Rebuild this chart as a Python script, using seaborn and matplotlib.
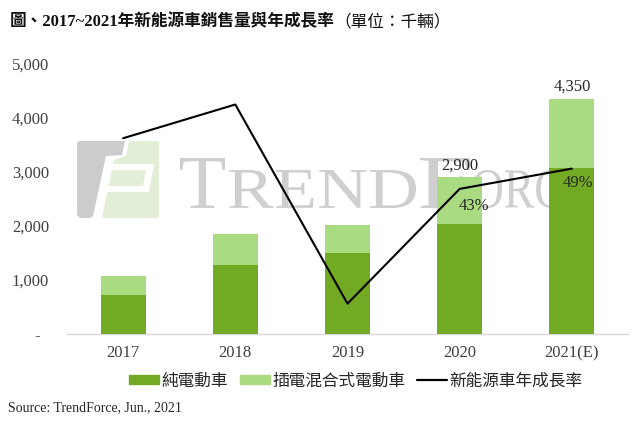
import numpy as np
import pandas as pd
import matplotlib
matplotlib.use("Agg")
import matplotlib.pyplot as plt
import seaborn as sns
from matplotlib.patches import Patch, Polygon, PathPatch
from matplotlib.lines import Line2D
from matplotlib.textpath import TextPath
from matplotlib.font_manager import FontProperties
from matplotlib.transforms import Affine2D, IdentityTransform

# 数据
years = ['2017', '2018', '2019', '2020', '2021(E)']
bev = [720, 1280, 1500, 2030, 3070]      # 純電動車
phev = [360, 570, 520, 870, 1280]        # 插電混合式電動車
growth = [58, 68, 9, 43, 49]             # 新能源車年成長率 (%)
total_labels = {3: '2,900', 4: '4,350'}
growth_labels = {3: '43%', 4: '49%'}

DARK = '#72AA24'
LIGHT = '#AADB80'
SERIF = ['Liberation Serif', 'Noto Sans CJK TC']
CJK = ['Noto Sans CJK TC', 'DejaVu Sans']

sns.set_theme(style="white")
plt.rcParams['font.family'] = SERIF
plt.rcParams['axes.unicode_minus'] = False

W, H = 640, 421
fig = plt.figure(figsize=(6.4, 4.21), dpi=100)
ax = fig.add_axes([67 / W, 1 - 334 / H, 561 / W, 270 / H])
ax.patch.set_alpha(0)


def px(x, y):
    return (x / W, 1 - y / H)


# 水印 logo
def add_poly(pts, color):
    fig.add_artist(Polygon([px(*p) for p in pts], closed=True, fc=color, ec='none',
                           transform=fig.transFigure, zorder=-5))


add_poly([(77, 143), (79, 141), (125, 141), (122, 155), (106, 156), (93, 216),
          (90, 218), (80, 218), (77, 215)], '#cccccc')
add_poly([(129, 141), (157, 141), (159, 143), (159, 216), (157, 218), (102, 218),
          (114, 160), (126, 156)], '#e2efd6')
add_poly([(112, 164), (154, 164), (153, 170), (111, 170)], 'white')
add_poly([(146, 170), (153, 170), (149, 192), (106, 192), (107, 186), (143, 186)], 'white')


# 水印文字
def fit_text(s, box, color):
    x0, y0, x1, y1 = box
    tp = TextPath((0, 0), s, size=100, prop=FontProperties(family='Liberation Serif'))
    ext = tp.get_extents()
    tr = (Affine2D().translate(-ext.x0, -ext.y0)
          .scale((x1 - x0) / ext.width, (y1 - y0) / ext.height)
          .translate(x0, H - y1))
    fig.add_artist(PathPatch(tr.transform_path(tp), fc=color, ec='none',
                             transform=IdentityTransform(), zorder=-5))


wm = '#cfcfcf'
fit_text('T', (180, 158, 225, 208), wm)
fit_text('REND', (229, 170, 416, 208), wm)
fit_text('F', (420, 158, 470, 208), wm)
fit_text('ORCE', (473, 170, 590, 208), wm)

# 堆叠柱状图
df = pd.DataFrame({'year': years, 'bev': bev, 'total': np.add(bev, phev)})
sns.barplot(data=df, x='year', y='total', color=LIGHT, saturation=1, width=0.4,
            linewidth=0, ax=ax, zorder=2)
sns.barplot(data=df, x='year', y='bev', color=DARK, saturation=1, width=0.4,
            linewidth=0, ax=ax, zorder=3)

ax.set_xlim(-0.5, 4.5)
ax.set_ylim(0, 5000)
ax.set_yticks(range(0, 5001, 1000))
ax.set_yticklabels(['-  '] + [f'{v:,}' for v in range(1000, 5001, 1000)])
ax.set_xlabel('')
ax.set_ylabel('')
ax.tick_params(axis='both', length=0, labelsize=12, colors='#404040')
ax.tick_params(axis='y', pad=13)
ax.tick_params(axis='x', pad=8)
for s in ['top', 'right', 'left']:
    ax.spines[s].set_visible(False)
ax.spines['bottom'].set_color('#d9d9d9')
ax.spines['bottom'].set_linewidth(1)

for i, lab in total_labels.items():
    ax.annotate(lab, (i, bev[i] + phev[i]), xytext=(0, 3), textcoords='offset points',
                ha='center', va='bottom', fontsize=12, color='#262626')

# 折线（次坐标轴）
ax2 = ax.twinx()
sns.lineplot(x=np.arange(len(years)), y=growth, ax=ax2, color='black', linewidth=1.5,
             sort=False)
ax2.set_ylim(0, 80)
ax2.set_xlim(-0.5, 4.5)
ax2.axis('off')
offs = {3: (10, -12), 4: (4, -10)}
for i, lab in growth_labels.items():
    ax2.annotate(lab, (i, growth[i]), xytext=offs[i], textcoords='offset points',
                 ha='center', va='center', fontsize=12, color='#262626')

# 图例
handles = [Patch(color=DARK, label='純電動車'),
           Patch(color=LIGHT, label='插電混合式電動車'),
           Line2D([], [], color='black', linewidth=1.6, label='新能源車年成長率')]
fig.legend(handles=handles, loc='center', bbox_to_anchor=(356 / W, 1 - 381 / H), ncol=3,
           frameon=False, prop=FontProperties(family=CJK, size=12),
           handlelength=1.8, handleheight=0.5, handletextpad=0.15, columnspacing=0.7,
           labelcolor='#262626')

# 标题
t1 = fig.text(10 / W, 1 - 22 / H, '圖、2017~2021年新能源車銷售量與年成長率',
              fontsize=12, fontweight='bold', va='center', ha='left', color='#111111')
fig.canvas.draw()
bb = t1.get_window_extent()
fig.text(bb.x1 / W, 1 - 22 / H, '（單位：千輛）', fontsize=12, va='center', ha='left',
         color='#111111')

fig.text(8 / W, 1 - 408 / H, 'Source: TrendForce, Jun., 2021', fontsize=10,
         va='center', ha='left', color='#262626')

fig.savefig('out.png', dpi=100)
